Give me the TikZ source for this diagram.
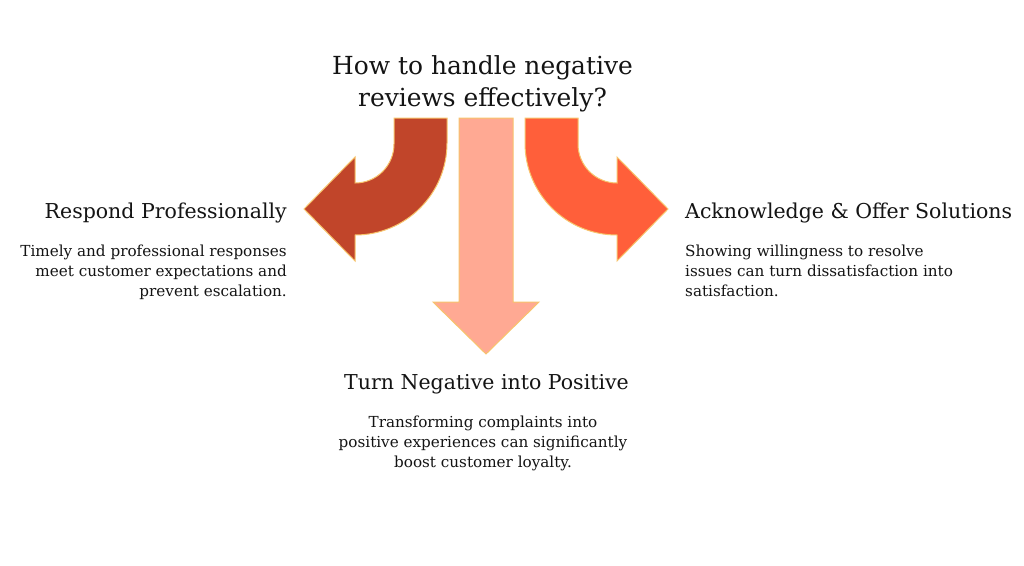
\documentclass[tikz,border=0pt]{standalone}
\usepackage{fontspec}
\setmainfont{DejaVu Serif}
\definecolor{arrL}{HTML}{C1452A}
\definecolor{arrM}{HTML}{FFA993}
\definecolor{arrR}{HTML}{FF5F3A}
\definecolor{edgeC}{HTML}{F7C46C}
\definecolor{txt}{HTML}{141414}
\tikzset{
  arrowshape/.style={draw=edgeC, line width=1pt, line join=miter},
  titletext/.style={inner sep=0pt, text=txt, align=center, font=\fontsize{24.9}{32}\selectfont},
  headtext/.style={inner sep=0pt, text=txt, font=\fontsize{20.5}{24}\selectfont},
  bodytext/.style={inner sep=0pt, text=txt, font=\fontsize{15.2}{20}\selectfont},
}
\begin{document}
\begin{tikzpicture}[x=1pt,y=-1pt]
\useasboundingbox[fill=white] (0,0) rectangle (1024,565);
% left curved arrow
\path[arrowshape, fill=arrL] (394,118) -- (447,118) -- (447,143)
  arc[start angle=0, end angle=-90, radius=92pt] -- (355,261) -- (304,209) -- (355,157) -- (355,183)
  arc[start angle=-90, end angle=0, radius=39pt] -- cycle;
% right curved arrow
\path[arrowshape, fill=arrR] (578,118) -- (525,118) -- (525,143)
  arc[start angle=180, end angle=270, radius=92pt] -- (617,261) -- (668,209) -- (617,157) -- (617,183)
  arc[start angle=270, end angle=180, radius=39pt] -- cycle;
% middle arrow
\path[arrowshape, fill=arrM] (459,118) -- (513,118) -- (513,302) -- (539,302) -- (486,354)
  -- (433,302) -- (459,302) -- cycle;
% texts
\node[titletext] (title) at (482.5,83.5) {How to handle negative\\reviews effectively?};
\node[headtext, anchor=east] (lhead) at (287,213) {Respond Professionally};
\node[bodytext, anchor=north east, align=right] (lbody) at (287,244.5) {Timely and professional responses\\meet customer expectations and\\prevent escalation.};
\node[headtext, anchor=west] (rhead) at (685,213) {Acknowledge \& Offer Solutions};
\node[bodytext, anchor=north west, align=left] (rbody) at (685,244.5) {Showing willingness to resolve\\issues can turn dissatisfaction into\\satisfaction.};
\node[headtext] (bhead) at (486.5,384) {Turn Negative into Positive};
\node[bodytext, anchor=north, align=center] (bbody) at (483,415.5) {Transforming complaints into\\positive experiences can significantly\\boost customer loyalty.};
\end{tikzpicture}
\end{document}
